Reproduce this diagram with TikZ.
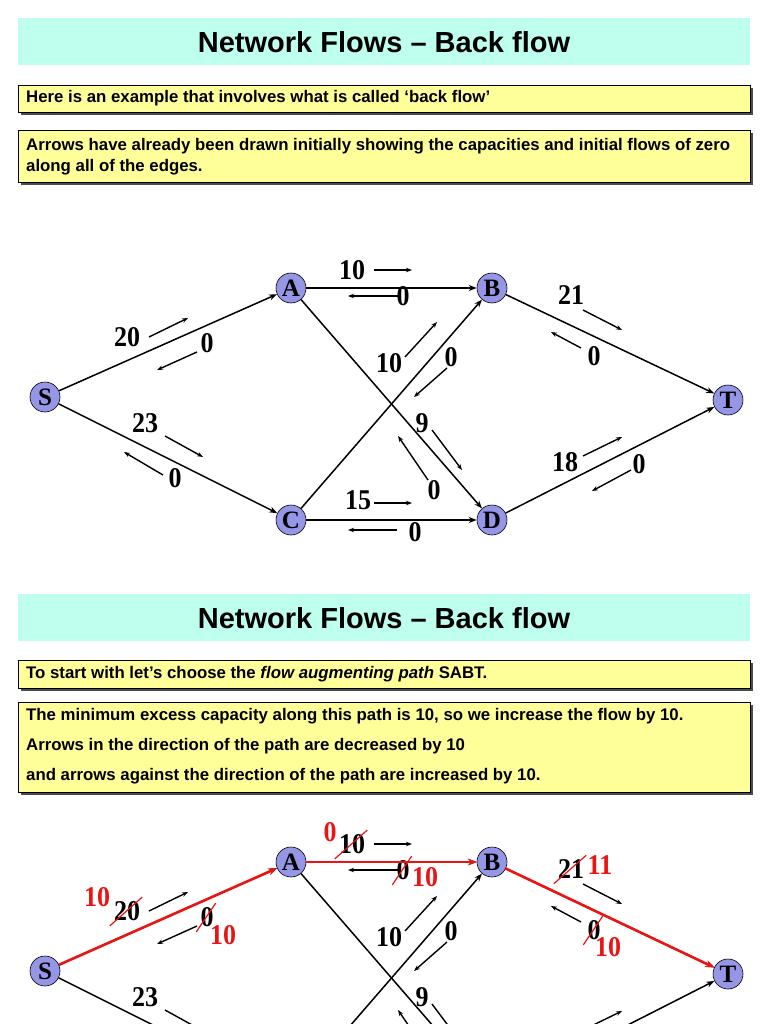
\documentclass[tikz,border=0pt]{standalone}
\usepackage{fontspec}
\setmainfont{Liberation Serif}
\newfontfamily\sansf{Liberation Sans}
\usetikzlibrary{arrows.meta,shadows}
\definecolor{titlecol}{RGB}{191,255,238}
\definecolor{boxcol}{RGB}{255,255,153}
\definecolor{nodecol}{RGB}{150,150,230}
\definecolor{redc}{RGB}{235,20,20}
\tikzset{
  title/.style={fill=titlecol,draw=none},
  ybox/.style={fill=boxcol,draw=black,line width=0.6pt,drop shadow={shadow xshift=3pt,shadow yshift=-3pt,fill=black!70,opacity=1}},
  btext/.style={font=\sansf\bfseries\fontsize{16.8}{19}\selectfont,anchor=west,inner sep=0pt},
  ttext/.style={font=\sansf\bfseries\fontsize{29}{32}\selectfont},
  vert/.style={circle,draw=black,line width=0.6pt,fill=nodecol,minimum size=30pt,inner sep=0pt,font=\bfseries\fontsize{25}{25}\selectfont},
  edge/.style={line width=1.5pt,-{Stealth[length=8pt,width=6pt]}},
  redge/.style={draw=redc,line width=2.6pt,-{Stealth[length=9pt,width=7pt]}},
  small/.style={line width=1.4pt,-{Stealth[length=6pt,width=4.5pt]}},
  lab/.style={font=\bfseries\fontsize{26}{26}\selectfont,inner sep=0pt,yscale=1.1},
  rlab/.style={lab,text=redc},
  strike/.style={draw=redc,line width=1.2pt}
}
\newcommand{\flowgraph}{%
  \node[vert] (S) at (45,397) {S};
  \node[vert] (A) at (291,288) {A};
  \node[vert] (B) at (492,288) {B};
  \node[vert] (T) at (728,400) {T};
  \node[vert] (C) at (291,520) {C};
  \node[vert] (D) at (492,520) {D};
  \draw[edge] (S) -- (A);
  \draw[edge] (S) -- (C);
  \draw[edge] (A) -- (B);
  \draw[edge] (C) -- (D);
  \draw[edge] (C) -- (B);
  \draw[edge] (A) -- (D);
  \draw[edge] (B) -- (T);
  \draw[edge] (D) -- (T);
  \node[lab] (lAB) at (352,270) {10};
  \node[lab] (lBA) at (403,296) {0};
  \node[lab] (lSA) at (127,337) {20};
  \node[lab] (lAS) at (207,343) {0};
  \node[lab] (lSC) at (145,423) {23};
  \node[lab] (lCS) at (175,478) {0};
  \node[lab] (lCD) at (358,500) {15};
  \node[lab] (lDC) at (415,532) {0};
  \node[lab] (lCB) at (389,363) {10};
  \node[lab] (lBC) at (451,357) {0};
  \node[lab] (lAD) at (422,423) {9};
  \node[lab] (lDA) at (434,490) {0};
  \node[lab] (lBT) at (571,295) {21};
  \node[lab] (lTB) at (594,356) {0};
  \node[lab] (lDT) at (565,462) {18};
  \node[lab] (lTD) at (639,464) {0};
  \coordinate (a1s) at (374,270); \coordinate (a1e) at (412,270);
  \coordinate (a2s) at (400,296); \coordinate (a2e) at (348,296);
  \coordinate (a3s) at (149,337); \coordinate (a3e) at (188,318);
  \coordinate (a4s) at (197,352); \coordinate (a4e) at (157,370);
  \coordinate (a5s) at (165,436); \coordinate (a5e) at (203,457);
  \coordinate (a6s) at (163,475); \coordinate (a6e) at (124,452);
  \coordinate (a7s) at (374,503); \coordinate (a7e) at (412,503);
  \coordinate (a8s) at (397,530); \coordinate (a8e) at (348,530);
  \coordinate (a9s) at (405,357); \coordinate (a9e) at (437,322);
  \coordinate (a10s) at (447,368); \coordinate (a10e) at (414,397);
  \coordinate (a11s) at (432,430); \coordinate (a11e) at (462,470);
  \coordinate (a12s) at (428,480); \coordinate (a12e) at (398,436);
  \coordinate (a13s) at (583,310); \coordinate (a13e) at (622,330);
  \coordinate (a14s) at (581,348); \coordinate (a14e) at (551,332);
  \coordinate (a15s) at (583,456); \coordinate (a15e) at (622,437);
  \coordinate (a16s) at (631,470); \coordinate (a16e) at (592,491);
  \foreach \i in {1,...,16} {\draw[small] (a\i s) -- (a\i e);}
}
\begin{document}
\begin{tikzpicture}[x=1pt,y=-1pt]
\useasboundingbox (0,0) rectangle (768,1024);
\clip (0,0) rectangle (768,1024);
\fill[white] (0,0) rectangle (768,1024);
% top slide
\node[title,minimum width=732pt,minimum height=47pt] (t1) at (384,41.5) {};
\node[ttext] (t1t) at (384,42) {Network Flows – Back flow};
\node[ybox,minimum width=732pt,minimum height=27pt,inner sep=0pt] (b1) at (384,98.5) {};
\node[btext] (b1t) at (26,98) {Here is an example that involves what is called ‘back flow’};
\node[ybox,minimum width=732pt,minimum height=52pt,inner sep=0pt] (b2) at (384,156) {};
\node[btext] (b2t) at (26,146) {Arrows have already been drawn initially showing the capacities and initial flows of zero};
\node[btext] (b2u) at (26,167) {along all of the edges.};
\begin{scope}[name prefix=top]
\flowgraph
\end{scope}
% bottom slide
\node[title,minimum width=732pt,minimum height=47pt] (t2) at (384,617.5) {};
\node[ttext] (t2t) at (384,618) {Network Flows – Back flow};
\node[ybox,minimum width=732pt,minimum height=28pt,inner sep=0pt] (b3) at (384,674) {};
\node[btext] (b3t) at (26,674) {To start with let’s choose the \textit{flow augmenting path} SABT.};
\node[ybox,minimum width=732pt,minimum height=90pt,inner sep=0pt] (b4) at (384,747) {};
\node[btext] (b4t) at (26,716) {The minimum excess capacity along this path is 10, so we increase the flow by 10.};
\node[btext] (b4u) at (26,746) {Arrows in the direction of the path are decreased by 10};
\node[btext] (b4v) at (26,776) {and arrows against the direction of the path are increased by 10.};
\begin{scope}[yshift=-574pt,name prefix=bot]
\flowgraph
\draw[redge] (S) -- (A);
\draw[redge] (A) -- (B);
\draw[redge] (B) -- (T);
\foreach \l in {lAB,lBA,lSA,lAS,lBT,lTB}
  {\draw[strike] ([xshift=-4pt,yshift=-5pt]\l.south west) -- ([xshift=2pt,yshift=4pt]\l.north east);}
\node[rlab] (nAB) at (330,258) {0};
\node[rlab] (nBA) at (425,303) {10};
\node[rlab] (nSA) at (97,323) {10};
\node[rlab] (nAS) at (223,361) {10};
\node[rlab] (nBT) at (600,291) {11};
\node[rlab] (nTB) at (608,373) {10};
\end{scope}
\end{tikzpicture}
\end{document}
